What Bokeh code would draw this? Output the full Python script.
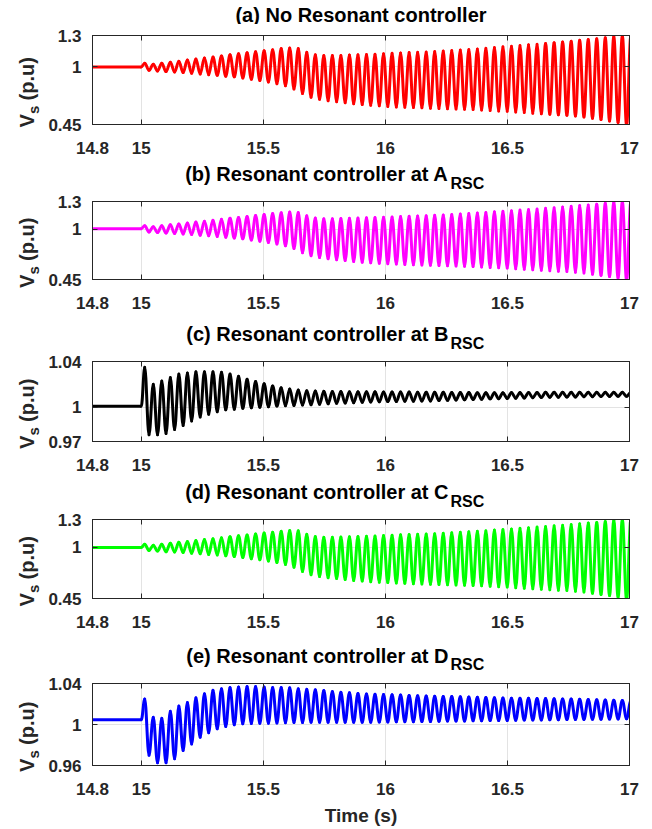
import math
from bokeh.plotting import figure
from bokeh.models import FixedTicker, LinearAxis, Range1d
from bokeh.core.properties import value
from bokeh.layouts import column, row
from bokeh.embed import file_html
from bokeh.resources import INLINE

# ---------------- data ----------------
x_ticks = [14.8, 15, 15.5, 16, 16.5, 17]
x_tick_labels = ["14.8", "15", "15.5", "16", "16.5", "17"]
t_first = 14.8
t_last = 17.0
t_event = 15.0            # disturbance instant
first_peak_time = 15.014  # first oscillation peak after the event
half_period = 0.01747     # half period of the ~28.6 Hz oscillation

titles = ["(a) No Resonant controller",
          "(b) Resonant controller at A",
          "(c) Resonant controller at B",
          "(d) Resonant controller at C",
          "(e) Resonant controller at D"]
title_subs = ["", "RSC", "RSC", "RSC", "RSC"]
colors = ["#FF0000", "#FF00FF", "#000000", "#00FF00", "#0000FF"]

flat_levels = [1.0, 1.003, 1.0008, 0.998, 1.0046]

y_ranges = [(0.45, 1.3), (0.45, 1.3), (0.97, 1.04), (0.45, 1.3), (0.96, 1.04)]
y_ticks = [[0.45, 1, 1.3], [0.45, 1, 1.3], [0.97, 1, 1.04], [0.45, 1, 1.3], [0.96, 1, 1.04]]
y_tick_labels = [["0.45", "1", "1.3"], ["0.45", "1", "1.3"], ["0.97", "1", "1.04"],
                 ["0.45", "1", "1.3"], ["0.96", "1", "1.04"]]

# successive oscillation peaks / troughs (p.u.)
a_peaks = [1.035, 1.025, 1.035, 1.045, 1.055, 1.065, 1.075, 1.085, 1.095, 1.105,
           1.115, 1.125, 1.135, 1.145, 1.155, 1.165, 1.175, 1.180, 1.175, 1.140,
           1.115, 1.108, 1.108, 1.110, 1.113, 1.116, 1.119, 1.122, 1.126, 1.130,
           1.134, 1.137, 1.140, 1.143, 1.147, 1.151, 1.156, 1.161, 1.166, 1.172,
           1.179, 1.186, 1.192, 1.198, 1.205, 1.211, 1.217, 1.224, 1.231, 1.238,
           1.246, 1.254, 1.261, 1.268, 1.278, 1.290, 1.300, 1.300]
a_troughs = [0.968, 0.962, 0.955, 0.952, 0.946, 0.940, 0.933, 0.926, 0.920, 0.912,
             0.905, 0.895, 0.882, 0.870, 0.856, 0.840, 0.820, 0.790, 0.745, 0.710,
             0.690, 0.678, 0.668, 0.658, 0.648, 0.640, 0.634, 0.628, 0.622, 0.618,
             0.615, 0.612, 0.609, 0.606, 0.603, 0.600, 0.598, 0.595, 0.593, 0.589,
             0.584, 0.580, 0.576, 0.570, 0.564, 0.558, 0.553, 0.548, 0.543, 0.538,
             0.532, 0.522, 0.510, 0.497, 0.484, 0.468, 0.440]

b_peaks = [1.036, 1.026, 1.036, 1.046, 1.056, 1.066, 1.076, 1.086, 1.096, 1.106,
           1.117, 1.127, 1.137, 1.147, 1.158, 1.168, 1.178, 1.185, 1.180, 1.145,
           1.120, 1.112, 1.112, 1.114, 1.117, 1.120, 1.123, 1.126, 1.129, 1.132,
           1.136, 1.139, 1.142, 1.145, 1.149, 1.153, 1.158, 1.163, 1.168, 1.174,
           1.181, 1.188, 1.194, 1.200, 1.207, 1.213, 1.219, 1.226, 1.233, 1.240,
           1.248, 1.256, 1.263, 1.270, 1.280, 1.292, 1.300, 1.300]
b_troughs = [0.968, 0.962, 0.956, 0.952, 0.946, 0.940, 0.933, 0.926, 0.919, 0.911,
             0.903, 0.893, 0.880, 0.868, 0.854, 0.838, 0.818, 0.788, 0.742, 0.708,
             0.690, 0.676, 0.666, 0.656, 0.646, 0.638, 0.632, 0.627, 0.622, 0.618,
             0.614, 0.611, 0.608, 0.605, 0.602, 0.599, 0.597, 0.594, 0.591, 0.587,
             0.582, 0.578, 0.574, 0.568, 0.562, 0.556, 0.551, 0.546, 0.541, 0.536,
             0.530, 0.520, 0.508, 0.495, 0.482, 0.466, 0.438]

c_peaks = [1.035, 1.020, 1.023, 1.026, 1.029, 1.030, 1.031, 1.031, 1.031, 1.0305,
           1.029, 1.027, 1.0245, 1.0225, 1.0205, 1.0185, 1.017, 1.016, 1.015, 1.0145,
           1.0142, 1.014, 1.0138, 1.0137, 1.0136, 1.0136, 1.0135, 1.0135, 1.0134, 1.0134,
           1.0133, 1.0133, 1.0132, 1.0131, 1.013, 1.013, 1.0129, 1.0128, 1.0128, 1.0127,
           1.0127, 1.0127, 1.0127, 1.0128, 1.0128, 1.0129, 1.0129, 1.013, 1.013, 1.013,
           1.013, 1.013, 1.013, 1.013, 1.013, 1.013, 1.013, 1.013]
c_troughs = [0.9758, 0.9758, 0.977, 0.9805, 0.984, 0.988, 0.9915, 0.9938, 0.996, 0.9977,
             0.9983, 0.999, 0.9995, 1.0, 1.0005, 1.001, 1.0013, 1.0016, 1.0019, 1.0022,
             1.0026, 1.003, 1.0034, 1.0037, 1.004, 1.0043, 1.0046, 1.0047, 1.0049, 1.005,
             1.0052, 1.0053, 1.0054, 1.0055, 1.0058, 1.006, 1.0063, 1.0065, 1.0068, 1.007,
             1.0073, 1.0075, 1.0077, 1.0079, 1.0081, 1.0083, 1.0085, 1.0087, 1.0088, 1.0089,
             1.009, 1.0091, 1.0092, 1.0093, 1.0094, 1.0095, 1.0095]

d_peaks = [1.034, 1.024, 1.034, 1.044, 1.054, 1.064, 1.074, 1.084, 1.094, 1.104,
           1.114, 1.124, 1.134, 1.144, 1.154, 1.164, 1.174, 1.182, 1.178, 1.142,
           1.116, 1.109, 1.109, 1.111, 1.114, 1.117, 1.120, 1.123, 1.127, 1.131,
           1.135, 1.138, 1.141, 1.144, 1.148, 1.152, 1.157, 1.162, 1.167, 1.173,
           1.180, 1.187, 1.193, 1.199, 1.206, 1.212, 1.218, 1.225, 1.232, 1.239,
           1.247, 1.255, 1.262, 1.269, 1.279, 1.291, 1.300, 1.300]
d_troughs = [0.966, 0.960, 0.954, 0.950, 0.944, 0.938, 0.931, 0.924, 0.918, 0.910,
             0.902, 0.892, 0.879, 0.867, 0.853, 0.837, 0.817, 0.787, 0.741, 0.706,
             0.686, 0.674, 0.664, 0.654, 0.645, 0.637, 0.631, 0.626, 0.621, 0.617,
             0.613, 0.610, 0.607, 0.604, 0.601, 0.598, 0.596, 0.593, 0.590, 0.586,
             0.581, 0.577, 0.573, 0.567, 0.561, 0.555, 0.550, 0.545, 0.540, 0.535,
             0.529, 0.519, 0.507, 0.494, 0.481, 0.465, 0.437]

e_peaks = [1.025, 1.007, 1.006, 1.013, 1.018, 1.0215, 1.026, 1.030, 1.0335, 1.035,
           1.036, 1.0365, 1.037, 1.037, 1.0365, 1.036, 1.0362, 1.0358, 1.035, 1.0345,
           1.034, 1.0332, 1.0322, 1.0315, 1.031, 1.0303, 1.0298, 1.0295, 1.0292, 1.029,
           1.0287, 1.0284, 1.0281, 1.0278, 1.0276, 1.0274, 1.0272, 1.027, 1.0268, 1.0266,
           1.0263, 1.026, 1.0258, 1.0257, 1.0256, 1.0255, 1.0254, 1.0253, 1.0252, 1.025,
           1.0248, 1.0246, 1.0244, 1.0241, 1.0238, 1.0236, 1.0234, 1.0232]
e_troughs = [0.970, 0.9626, 0.9626, 0.9665, 0.9746, 0.981, 0.9876, 0.992, 0.9958, 0.998,
             0.9997, 1.0007, 1.001, 1.0012, 1.0013, 1.0015, 1.0018, 1.002, 1.002, 1.0021,
             1.0022, 1.0022, 1.0022, 1.0022, 1.0022, 1.0022, 1.0023, 1.0024, 1.0025, 1.0026,
             1.0027, 1.0028, 1.0029, 1.003, 1.0031, 1.0033, 1.0034, 1.0035, 1.0036, 1.0037,
             1.0038, 1.0039, 1.004, 1.0041, 1.0043, 1.0044, 1.0045, 1.0046, 1.0047, 1.0048,
             1.0049, 1.005, 1.0051, 1.0052, 1.0053, 1.0054, 1.0055]

all_peaks = [a_peaks, b_peaks, c_peaks, d_peaks, e_peaks]
all_troughs = [a_troughs, b_troughs, c_troughs, d_troughs, e_troughs]

# ---------------- layout (pixels) ----------------
W = 652
YLAB_W = 45
FRAME_W = 537
PLOT_LEFT = 92 - YLAB_W
PLOT_RIGHT = W - 92 - FRAME_W
PLOT_TOP = 11
title_hs = [24, 27, 32, 28, 35]
title_main_y = [14, 10, 15, 11, 18]     # from the top of each title strip
title_sub_y = [0, 19.5, 24.5, 20.5, 26.5]
frame_hs = [89, 78, 80, 79, 82]
bottom_borders = [39, 39, 39, 39, 64]
FONT = "Liberation Sans"
AXCOL = "#262626"
K_BEZ = 0.3634


def extrema(flat, peaks, troughs):
    ts = [t_event]
    vs = [flat]
    for k, pk in enumerate(peaks):
        ts.append(first_peak_time + 2 * k * half_period)
        vs.append(pk)
        if k < len(troughs):
            ts.append(first_peak_time + (2 * k + 1) * half_period)
            vs.append(troughs[k])
    return ts, vs


def blank_fig(w, h):
    f = figure(frame_width=w, frame_height=h, x_range=Range1d(0, w), y_range=Range1d(0, h),
               x_axis_type=None, y_axis_type=None, min_border=0,
               min_border_left=0, min_border_right=0, min_border_top=0, min_border_bottom=0,
               output_backend="svg", toolbar_location=None, tools="")
    f.outline_line_color = None
    f.background_fill_color = "white"
    f.border_fill_color = "white"
    f.xgrid.visible = False
    f.ygrid.visible = False
    return f


def title_strip(i):
    h = title_hs[i]
    f = blank_fig(W, h)
    if title_subs[i]:
        f.text(x=[448], y=[h - title_main_y[i]], text=[titles[i]], text_align="right",
               text_baseline="middle", text_font=value(FONT), text_font_size=value("20px"),
               text_font_style="bold", text_color="black")
        f.text(x=[450], y=[h - title_sub_y[i]], text=[title_subs[i]], text_align="left",
               text_baseline="middle", text_font=value(FONT), text_font_size=value("16px"),
               text_font_style="bold", text_color="black")
    else:
        f.text(x=[92 + FRAME_W / 2], y=[h - title_main_y[i]], text=[titles[i]],
               text_align="center", text_baseline="middle", text_font=value(FONT),
               text_font_size=value("20px"), text_font_style="bold", text_color="black")
    return f


def ylabel_strip(i, total_h):
    f = blank_fig(YLAB_W, total_h)
    cy = PLOT_TOP + frame_hs[i] / 2
    start = cy + 36.5
    lx = 26
    f.text(x=[lx], y=[total_h - start], text=["V"], angle=math.pi / 2,
           text_align="left", text_baseline="middle", text_font=value(FONT),
           text_font_size=value("20px"), text_font_style="bold", text_color=AXCOL)
    f.text(x=[lx + 7], y=[total_h - (start - 13.5)], text=["s"], angle=math.pi / 2,
           text_align="left", text_baseline="middle", text_font=value(FONT),
           text_font_size=value("15px"), text_font_style="bold", text_color=AXCOL)
    f.text(x=[lx], y=[total_h - (start - 27)], text=["(p.u)"], angle=math.pi / 2,
           text_align="left", text_baseline="middle", text_font=value(FONT),
           text_font_size=value("20px"), text_font_style="bold", text_color=AXCOL)
    return f


def plot_panel(i):
    y0, y1 = y_ranges[i]
    h = frame_hs[i]
    p = figure(frame_width=FRAME_W, frame_height=h,
               min_border_left=PLOT_LEFT, min_border_right=PLOT_RIGHT,
               min_border_top=PLOT_TOP, min_border_bottom=bottom_borders[i],
               x_range=Range1d(t_first, t_last), y_range=Range1d(y0, y1),
               output_backend="svg", toolbar_location=None, tools="")
    p.background_fill_color = "white"
    p.border_fill_color = "white"
    p.outline_line_color = AXCOL
    p.outline_line_width = 1

    xb = p.below[0]
    yl = p.left[0]
    xb.ticker = FixedTicker(ticks=x_ticks)
    xb.major_label_overrides = dict(zip(x_ticks, x_tick_labels))
    yl.ticker = FixedTicker(ticks=y_ticks[i])
    yl.major_label_overrides = dict(zip(y_ticks[i], y_tick_labels[i]))
    for ax in (xb, yl):
        ax.major_tick_in = 5
        ax.major_tick_out = 0
        ax.minor_tick_line_color = None
        ax.axis_line_color = AXCOL
        ax.major_tick_line_color = AXCOL
        ax.major_label_text_font = FONT
        ax.major_label_text_font_size = "17px"
        ax.major_label_text_font_style = "bold"
        ax.major_label_text_color = AXCOL
    xb.major_label_standoff = 17
    yl.major_label_standoff = 11

    # tick marks on the right and top edges (no labels)
    ra = LinearAxis(ticker=FixedTicker(ticks=y_ticks[i]), major_label_text_font_size="1px",
                    major_label_text_color=None,
                    major_tick_in=5, major_tick_out=0, minor_tick_line_color=None,
                    axis_line_color=AXCOL, major_tick_line_color=AXCOL, major_label_standoff=0)
    p.add_layout(ra, "right")
    ta = LinearAxis(ticker=FixedTicker(ticks=x_ticks), major_label_text_font_size="1px",
                    major_label_text_color=None,
                    major_tick_in=5, major_tick_out=0, minor_tick_line_color=None,
                    axis_line_color=AXCOL, major_tick_line_color=AXCOL, major_label_standoff=0)
    p.add_layout(ta, "above")

    p.xgrid.ticker = FixedTicker(ticks=x_ticks)
    p.ygrid.ticker = FixedTicker(ticks=y_ticks[i])
    p.grid.grid_line_color = "#E3E3E3"
    p.grid.grid_line_width = 1

    col = colors[i]
    flat = flat_levels[i]
    p.line([t_first, t_event], [flat, flat], line_color=col, line_width=3)
    ts, vs = extrema(flat, all_peaks[i], all_troughs[i])
    x0 = ts[:-1]
    x1 = ts[1:]
    yy0 = vs[:-1]
    yy1 = vs[1:]
    cx0 = [a + K_BEZ * (b - a) for a, b in zip(x0, x1)]
    cx1 = [b - K_BEZ * (b - a) for a, b in zip(x0, x1)]
    p.bezier(x0=x0, y0=yy0, x1=x1, y1=yy1, cx0=cx0, cy0=yy0, cx1=cx1, cy1=yy1,
             line_color=col, line_width=3, line_cap="round")

    if i == 4:
        xb.axis_label = "Time (s)"
        xb.axis_label_text_font = FONT
        xb.axis_label_text_font_size = "19px"
        xb.axis_label_text_font_style = "bold"
        xb.axis_label_text_color = AXCOL
        xb.axis_label_standoff = 7
    return p


blocks = []
for i in range(5):
    total_h = PLOT_TOP + frame_hs[i] + bottom_borders[i]
    blocks.append(title_strip(i))
    blocks.append(row(ylabel_strip(i, total_h), plot_panel(i), spacing=0))
layout = column(*blocks, spacing=0)

with open("out.html", "w") as f:
    f.write(file_html(layout, INLINE, title="Vs"))
